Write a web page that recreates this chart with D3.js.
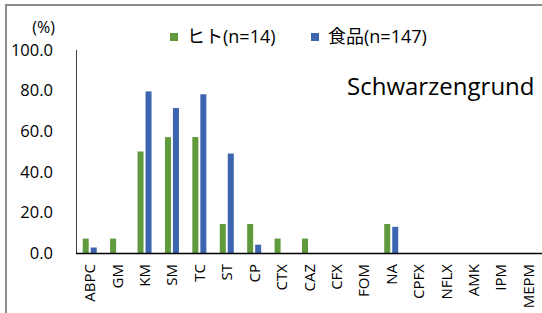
<!DOCTYPE html>
<html><head><meta charset="utf-8">
<script src="https://cdn.jsdelivr.net/npm/d3@7"></script>
<style>body{margin:0;background:#fff}svg{display:block}text{font-family:"Open Sans","Noto Sans CJK JP",sans-serif;fill:#000}</style>
</head><body><svg id="c" width="542" height="313"></svg>
<script>
const categories = ["ABPC","GM","KM","SM","TC","ST","CP","CTX","CAZ","CFX","FOM","NA","CPFX","NFLX","AMK","IPM","MEPM"];
const human = [7.1,7.1,50.0,57.1,57.1,14.3,14.3,7.1,7.1,0,0,14.3,0,0,0,0,0];
const food = [2.7,0,79.6,71.4,78.2,49.0,4.1,0,0,0,0,12.9,0,0,0,0,0];
const seriesNames = ["ヒト(n=14)","食品(n=147)"];
const colors = ["#5f9a3c","#3d64ae"];
const yTicks = [0,20,40,60,80,100];

const svg = d3.select("#c");
svg.append("path").attr("d","M6,313 V5 H542").attr("fill","none").attr("stroke","#8c8c8c").attr("stroke-width",2);

const x = d3.scaleBand().domain(categories).range([76,542]);
const y = d3.scaleLinear().domain([0,100]).range([253,50]);

svg.append("line").attr("x1",76.5).attr("x2",76.5).attr("y1",y(100)).attr("y2",y(0)).attr("stroke","#404040").attr("stroke-width",1);
svg.selectAll(".yt").data(yTicks).join("text").attr("x",53).attr("y",d=>y(d)).attr("dy","0.35em")
  .attr("text-anchor","end").attr("font-size",16.5).text(d=>d.toFixed(1));
svg.append("text").attr("x",55).attr("y",33).attr("text-anchor","end").attr("font-size",16).text("(%)");

const bw = 6, gap = 2;
const off = (x.bandwidth() - (2*bw+gap))/2;
const g = svg.append("g");
[human, food].forEach((arr,i)=>{
  g.selectAll(".b"+i).data(arr).join("rect")
    .attr("x",(d,j)=>x(categories[j])+off+i*(bw+gap))
    .attr("y",d=>y(d)).attr("width",bw).attr("height",d=>y(0)-y(d))
    .attr("fill",colors[i]);
});
svg.append("line").attr("x1",76).attr("x2",542).attr("y1",253.5).attr("y2",253.5).attr("stroke","#000").attr("stroke-width",1.5);

svg.selectAll(".xl").data(categories).join("text")
  .attr("transform",d=>`translate(${x(d)+x.bandwidth()/2+5.5},264) rotate(-90)`)
  .attr("text-anchor","end").attr("font-size",15).text(d=>d);

const leg = [{x:170,t:seriesNames[0],c:colors[0]},{x:311,t:seriesNames[1],c:colors[1]}];
leg.forEach(l=>{
  svg.append("rect").attr("x",l.x).attr("y",33).attr("width",8).attr("height",8).attr("fill",l.c);
  svg.append("text").attr("x",l.x+17).attr("y",37).attr("dy","0.35em").attr("font-size",18).text(l.t);
});
svg.append("text").attr("x",347).attr("y",87).attr("dy","0.35em").attr("font-size",24).text("Schwarzengrund");
</script></body></html>
